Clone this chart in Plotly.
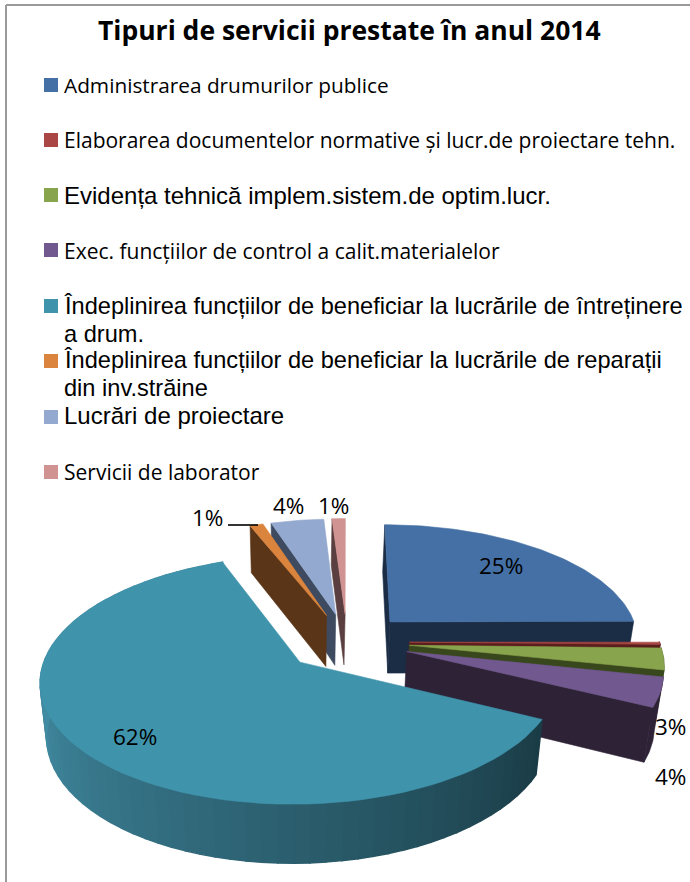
import math
import plotly.graph_objects as go

TITLE = "Tipuri de servicii prestate în anul 2014"
CATEGORIES = [
    "Administrarea drumurilor publice",
    "Elaborarea documentelor normative și lucr.de proiectare tehn.",
    "Evidența tehnică implem.sistem.de optim.lucr.",
    "Exec. funcțiilor de control a calit.materialelor",
    "Îndeplinirea funcțiilor de beneficiar la lucrările de întreținere<br>a drum.",
    "Îndeplinirea funcțiilor de beneficiar la lucrările de reparații<br>din inv.străine",
    "Lucrări de proiectare",
    "Servicii de laborator",
]
VALUES = [25, 0.4, 3, 4, 62, 1, 4, 1]
LABELS = ["25%", "", "3%", "4%", "62%", "1%", "4%", "1%"]
TOP_COLORS = ["#4470A5", "#AA4643", "#88A44D", "#71588F", "#3F94AC", "#DB843D", "#93A9CF", "#D19392"]
WALL_COLORS = ["#1B2C45", "#5A1F1C", "#39471D", "#2D2236", "#1C3E48", "#5A3518", "#3D4A5F", "#5A3E40"]

# view of the tilted pie
OX, OY = 347, 642
A, B, K = 250, 116, 0.14
EXPLODE = 0.25


def top(U, V):
    d = 1 + K * V
    return OX + A * U / d, OY - B * V / d


def down(p):
    x, y = p
    return x + (300 - x) * 0.025, y + 47 + 0.043 * (y - 525)


total = sum(VALUES)
spans = []
run = 0
for v in VALUES:
    spans.append((run / total * 2 * math.pi, (run + v) / total * 2 * math.pi))
    run += v


def centre(i):
    mid = sum(spans[i]) / 2
    return EXPLODE * math.sin(mid), EXPLODE * math.cos(mid)


def rim(i, t):
    cu, cv = centre(i)
    return top(cu + math.sin(t), cv + math.cos(t))


def arc(i, t0, t1, n=80):
    return [rim(i, t0 + (t1 - t0) * j / n) for j in range(n + 1)]


fig = go.Figure()


def poly(pts, color, width=0.6):
    fig.add_trace(go.Scatter(
        x=[p[0] for p in pts] + [pts[0][0]],
        y=[p[1] for p in pts] + [pts[0][1]],
        mode="lines", fill="toself", fillcolor=color,
        line=dict(color=color, width=width),
        hoverinfo="skip", showlegend=False,
    ))


def radial_wall(i, t):
    c = top(*centre(i))
    r = rim(i, t)
    poly([c, r, down(r), down(c)], WALL_COLORS[i])


def mix(a, b, f):
    return "rgb(%d,%d,%d)" % tuple(round(a[j] + (b[j] - a[j]) * f) for j in range(3))


def draw_top(i):
    c = top(*centre(i))
    poly([c] + arc(i, *spans[i]), TOP_COLORS[i])


# back slices: their left radial walls, then faces
for i in (7, 6, 5):
    radial_wall(i, spans[i][0])
    draw_top(i)

# first slice
radial_wall(0, spans[0][0])
radial_wall(0, spans[0][1])
draw_top(0)

# the three thin slices on the right
for i in (1, 2, 3):
    pts = arc(i, *spans[i], n=20)
    poly(pts + [down(p) for p in reversed(pts)], WALL_COLORS[i])
    radial_wall(i, spans[i][1])
    draw_top(i)

# the largest slice: shaded rim
i = 4
t0, t1 = spans[i]
N = 70
LIGHT = (66, 140, 163)
DARK = (26, 60, 70)
for j in range(N):
    a0 = t0 + (t1 - t0) * j / N
    a1 = t0 + (t1 - t0) * (j + 1) / N
    seg = arc(i, a0, a1, n=2)
    f = min(1, max(0, (a0 - t0) / (math.radians(262) - t0)))
    poly(seg + [down(p) for p in reversed(seg)], mix(DARK, LIGHT, f), width=1.5)
draw_top(i)

# frame
shapes = [
    dict(type="line", x0=6, x1=6, y0=5, y1=882, line=dict(color="#9A9A9A", width=2)),
    dict(type="line", x0=6, x1=690, y0=5, y1=5, line=dict(color="#9A9A9A", width=2)),
    dict(type="line", x0=228, x1=258, y0=525, y1=525, line=dict(color="#000000", width=1.6)),
]

# legend
ROW_Y = [85, 140, 195, 250, 306, 361, 417, 472]
FONTS = ["Open Sans", "Open Sans", "Liberation Sans", "Open Sans",
         "Liberation Sans", "Liberation Sans", "Liberation Sans", "Open Sans"]
SIZES = [20.8, 21, 24, 21, 23.6, 23.6, 24, 21]
TEXT_Y = [85, 140, 195, 251, 306, 360, 415, 472]
LINE_STEP = 28
annotations = []
for name, color, ry, ty, fam, size in zip(CATEGORIES, TOP_COLORS, ROW_Y, TEXT_Y, FONTS, SIZES):
    shapes.append(dict(type="rect", x0=44, x1=58, y0=ry - 7, y1=ry + 7,
                       fillcolor=color, line=dict(width=0)))
    for k, line in enumerate(name.split("<br>")):
        annotations.append(dict(x=62, y=ty + k * LINE_STEP, xref="x", yref="y", text=line, showarrow=False,
                                xanchor="left", yanchor="middle", align="left",
                                font=dict(family=fam, size=size, color="#000000")))

annotations.append(dict(x=349, y=30, xref="x", yref="y", text="<b>" + TITLE + "</b>", showarrow=False,
                        xanchor="center", yanchor="middle",
                        font=dict(family="Open Sans", size=26.5, color="#000000")))

LABEL_POS = [(501, 565), None, (670, 726), (670, 776), (135, 736), (207, 517), (288, 505), (333, 505)]
for txt, pos in zip(LABELS, LABEL_POS):
    if txt:
        annotations.append(dict(x=pos[0], y=pos[1], xref="x", yref="y", text=txt, showarrow=False,
                                xanchor="center", yanchor="middle",
                                font=dict(family="Open Sans", size=22.5, color="#000000")))

fig.update_layout(
    width=690, height=882, margin=dict(l=0, r=0, t=0, b=0),
    paper_bgcolor="white", plot_bgcolor="white",
    xaxis=dict(range=[0, 690], visible=False, fixedrange=True),
    yaxis=dict(range=[882, 0], visible=False, fixedrange=True),
    shapes=shapes, annotations=annotations, showlegend=False,
)
fig.write_html("out.html", config={"displayModeBar": False},
               post_script="document.body.style.margin='0';document.body.style.overflow='hidden';")
